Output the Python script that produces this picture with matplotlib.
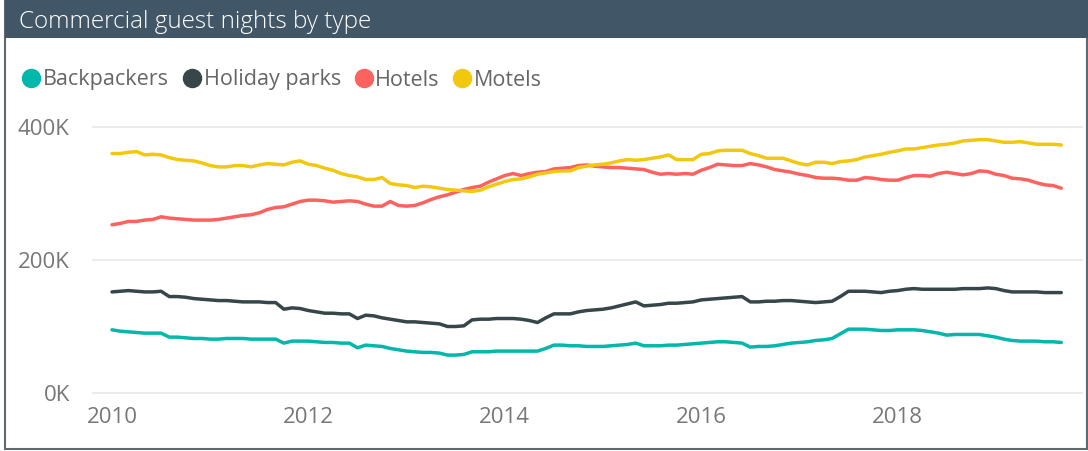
import numpy as np
import matplotlib.pyplot as plt
from matplotlib.lines import Line2D
from matplotlib.patches import Rectangle

# monthly values in thousands, Jan 2010 .. Sep 2019
backpackers = [95, 93, 92, 91, 90, 90, 90, 84, 84, 83, 82, 82,
               81, 81, 82, 82, 82, 81, 81, 81, 81, 75, 78, 78,
               78, 77, 76, 76, 75, 75, 68, 72, 71, 70, 67, 65,
               63, 62, 61, 61, 60, 57, 57, 58, 62, 62, 62, 63,
               63, 63, 63, 63, 63, 67, 72, 72, 71, 71, 70, 70,
               70, 71, 72, 73, 75, 71, 71, 71, 72, 72, 73, 74,
               75, 76, 77, 77, 76, 75, 69, 70, 70, 71, 73, 75,
               76, 77, 79, 80, 82, 89, 96, 96, 96, 95, 94, 94,
               95, 95, 95, 94, 92, 90, 87, 88, 88, 88, 88, 86,
               84, 81, 79, 78, 78, 78, 77, 77, 76]
holiday_parks = [152, 153, 154, 153, 152, 152, 153, 145, 145, 144, 142, 141,
                 140, 139, 139, 138, 137, 137, 137, 136, 136, 126, 128, 127,
                 124, 122, 120, 120, 119, 119, 112, 117, 116, 113, 111, 109,
                 107, 107, 106, 105, 104, 100, 100, 101, 110, 111, 111, 112,
                 112, 112, 111, 109, 106, 113, 119, 119, 119, 122, 124, 125,
                 126, 128, 131, 134, 137, 131, 132, 133, 135, 135, 136, 137,
                 140, 141, 142, 143, 144, 145, 137, 137, 138, 138, 139, 139,
                 138, 137, 136, 137, 138, 145, 153, 153, 153, 152, 151, 153,
                 154, 156, 157, 156, 156, 156, 156, 156, 157, 157, 157, 158,
                 157, 154, 152, 152, 152, 152, 151, 151, 151]
hotels = [253, 255, 258, 258, 260, 261, 265, 263, 262, 261, 260, 260,
          260, 261, 263, 265, 267, 268, 271, 276, 279, 280, 284, 288,
          290, 290, 289, 287, 288, 289, 288, 284, 281, 281, 288, 282,
          281, 282, 286, 291, 295, 298, 302, 306, 309, 311, 317, 322,
          327, 330, 327, 330, 332, 333, 337, 338, 339, 342, 343, 341,
          340, 339, 339, 338, 337, 336, 332, 329, 330, 329, 330, 329,
          335, 339, 344, 343, 342, 342, 345, 343, 340, 336, 334, 332,
          329, 327, 324, 323, 323, 322, 320, 320, 324, 323, 321, 320,
          320, 324, 327, 327, 326, 330, 332, 330, 328, 330, 334, 333,
          329, 327, 323, 322, 320, 316, 313, 312, 308]
motels = [360, 360, 362, 363, 358, 359, 358, 354, 351, 350, 349, 346,
          342, 340, 340, 342, 342, 340, 343, 345, 344, 343, 347, 349,
          344, 342, 338, 335, 330, 327, 325, 321, 321, 324, 315, 313,
          312, 309, 311, 310, 308, 306, 305, 304, 303, 305, 310, 314,
          318, 321, 322, 325, 329, 331, 333, 334, 334, 339, 341, 343,
          344, 346, 349, 351, 350, 351, 353, 355, 358, 351, 351, 351,
          359, 360, 364, 365, 365, 365, 360, 357, 353, 353, 353, 349,
          345, 343, 347, 347, 345, 348, 349, 351, 355, 357, 359, 362,
          364, 367, 367, 369, 371, 373, 374, 376, 379, 380, 381, 381,
          379, 377, 377, 378, 376, 374, 374, 374, 373]

names = ["Backpackers", "Holiday parks", "Hotels", "Motels"]
colors = ["#01B8AA", "#374649", "#FD625E", "#F2C80F"]
series = [backpackers, holiday_parks, hotels, motels]
years = [2010, 2012, 2014, 2016, 2018]

x = 2010 + np.arange(len(motels)) / 12.0

plt.rcParams['font.family'] = ['Open Sans', 'DejaVu Sans']

fig = plt.figure(figsize=(10.88, 4.51), dpi=100)

# frame and title bar
fig.patches.append(Rectangle((5 / 1088, 2 / 451), 1 - 6 / 1088, 1 - 2 / 451,
                             transform=fig.transFigure, fill=False,
                             edgecolor="#5E6A70", linewidth=1.5))
fig.patches.append(Rectangle((5 / 1088, 1 - 38 / 451), 1 - 5 / 1088, 38 / 451,
                             transform=fig.transFigure, facecolor="#415666",
                             edgecolor="none"))
fig.text(19 / 1088, 1 - 22 / 451, "Commercial guest nights by type",
         color="white", fontsize=17.5, fontweight="light", va="center", ha="left")

ax = fig.add_axes([92 / 1088, (451 - 399.65) / 451, (1083 - 92) / 1088, (399.65 - 120.35) / 451])
for vals, c, n in zip(series, colors, names):
    ax.plot(x, vals, color=c, linewidth=2.5, label=n, solid_capstyle="round")

ax.set_xlim(2010 - 20 / 98.2, 2010 + (1083 - 112) / 98.2)
ax.set_ylim(-10, 410)
ax.set_yticks([0, 200, 400])
ax.set_yticklabels(["0K", "200K", "400K"])
ax.set_xticks(years)
ax.set_xticklabels([str(y) for y in years])
ax.grid(axis="y", color="#E8E8E8", linewidth=1.2)
ax.set_axisbelow(True)
for s in ax.spines.values():
    s.set_visible(False)
ax.tick_params(length=0, labelsize=16, labelcolor="#777777")
ax.tick_params(axis="y", pad=16)
ax.tick_params(axis="x", pad=5)

handles = [Line2D([], [], linestyle="none", marker="o", markersize=13,
                  markerfacecolor=c, markeredgecolor=c) for c in colors]
fig.legend(handles, names, loc="center left", bbox_to_anchor=(12 / 1088, 1 - 80 / 451),
           ncol=4, frameon=False, fontsize=15.5, labelcolor="#666666",
           handletextpad=0.05, columnspacing=0.55, handlelength=1.0, borderaxespad=0)

fig.savefig("out.png", dpi=100)
